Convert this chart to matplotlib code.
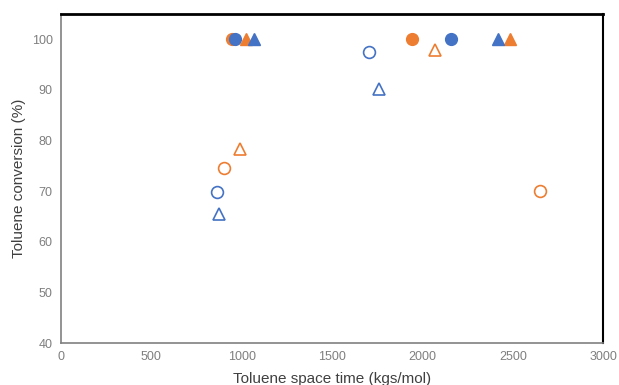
import matplotlib
matplotlib.use('Agg')
import matplotlib.pyplot as plt

BLUE = '#4472C4'
ORANGE = '#ED7D31'

# open markers
blue_open_circle_x = [863, 1705]
blue_open_circle_y = [69.8, 97.4]
blue_open_tri_x = [874, 1760]
blue_open_tri_y = [65.5, 90.1]
orange_open_circle_x = [902, 2651]
orange_open_circle_y = [74.6, 70.0]
orange_open_tri_x = [991, 2070]
orange_open_tri_y = [78.3, 97.8]

# filled markers
blue_fill_circle_x = [963, 2159]
blue_fill_circle_y = [100, 100]
blue_fill_tri_x = [1068, 2419]
blue_fill_tri_y = [100, 100]
orange_fill_circle_x = [946, 1943]
orange_fill_circle_y = [100, 100]
orange_fill_tri_x = [1024, 2485]
orange_fill_tri_y = [100, 100]

plt.rcParams['font.family'] = ['Liberation Sans', 'DejaVu Sans']

fig = plt.figure(figsize=(6.19, 3.85), dpi=100)
ax = fig.add_axes([0.0985, 0.109, 0.876, 0.855])

ms = 8.5
ax.plot(blue_open_circle_x, blue_open_circle_y, 'o', ms=ms, mfc='white', mec=BLUE, mew=1.2, ls='none')
ax.plot(blue_open_tri_x, blue_open_tri_y, '^', ms=ms, mfc='white', mec=BLUE, mew=1.2, ls='none')
ax.plot(orange_open_circle_x, orange_open_circle_y, 'o', ms=ms, mfc='white', mec=ORANGE, mew=1.2, ls='none')
ax.plot(orange_open_tri_x, orange_open_tri_y, '^', ms=ms, mfc='white', mec=ORANGE, mew=1.2, ls='none')
ax.plot(orange_fill_circle_x, orange_fill_circle_y, 'o', ms=ms, color=ORANGE, ls='none')
ax.plot(blue_fill_circle_x, blue_fill_circle_y, 'o', ms=ms, color=BLUE, ls='none')
ax.plot(orange_fill_tri_x, orange_fill_tri_y, '^', ms=ms, color=ORANGE, ls='none')
ax.plot(blue_fill_tri_x, blue_fill_tri_y, '^', ms=ms, color=BLUE, ls='none')

ax.set_xlim(0, 3000)
ax.set_ylim(40, 105)
ax.set_xticks(range(0, 3001, 500))
ax.set_yticks(range(40, 101, 10))
ax.tick_params(length=0, labelsize=9, colors='#7F7F7F', pad=6)

ax.spines['top'].set_color('black')
ax.spines['top'].set_linewidth(2)
ax.spines['right'].set_color('black')
ax.spines['right'].set_linewidth(1.5)
ax.spines['left'].set_color('#808080')
ax.spines['left'].set_linewidth(1.2)
ax.spines['bottom'].set_color('#808080')
ax.spines['bottom'].set_linewidth(1.2)

ax.set_xlabel('Toluene space time (kgs/mol)', fontsize=11, color='#404040', labelpad=6)
ax.set_ylabel('Toluene conversion (%)', fontsize=11, color='#404040', labelpad=4)

fig.savefig('out.png', dpi=100)
